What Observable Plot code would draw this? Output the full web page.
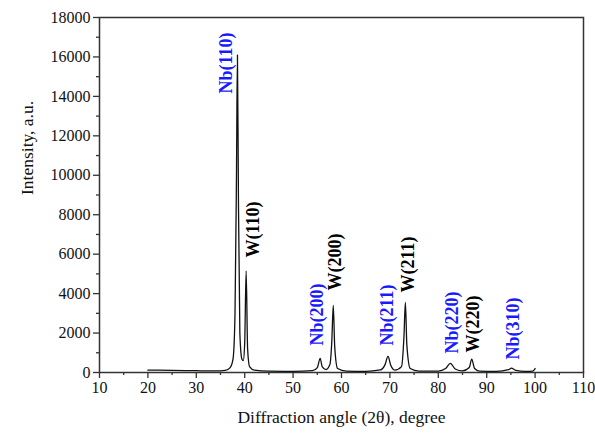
<!DOCTYPE html>
<html><head><meta charset="utf-8">
<script src="https://cdn.jsdelivr.net/npm/d3@7"></script>
<script src="https://cdn.jsdelivr.net/npm/@observablehq/plot@0.6"></script>
<style>body{margin:0;background:#fff}</style>
</head><body><div id="chart"></div>
<script>
const angle = [20,25,30,34,36,37,37.6,38.0,38.3,38.5,38.7,39.0,39.4,39.7,40.0,40.3,40.6,41.0,42,45,50,54,55.0,55.6,56.0,56.8,57.6,58.0,58.3,58.6,59.2,61,65,68,69.0,69.6,70.2,71,72.4,72.9,73.2,73.5,74.2,76,80,81.5,82.5,83.5,85,86.4,86.9,87.5,88.5,92,94.5,95.1,96,98,99.5,100];
const intensity = [120,110,90,80,110,250,700,3000,10000,16100,9000,2000,700,600,1500,5150,1200,300,120,70,60,90,250,720,300,150,400,1600,3400,1300,200,70,60,130,400,820,350,120,300,1800,3550,1400,200,70,70,200,460,180,80,250,680,200,70,60,140,220,110,60,70,200];
const labelText = ["Nb(110)","W(110)","Nb(200)","W(200)","Nb(211)","W(211)","Nb(220)","W(220)","Nb(310)"];
const labelX = [36.2,41.75,55.0,58.7,69.5,73.8,82.9,87.2,95.5];
const labelY = [14150,5830,1370,4160,1370,4060,960,1010,660];
const labelPhase = ["Nb","W","Nb","W","Nb","W","Nb","W","Nb"];
const xMajor = d3.range(10,111,10);
const xMinor = d3.range(15,110,10);
const yMajor = d3.range(0,18001,2000);
const yMinor = d3.range(1000,18000,2000);

const pattern = angle.map((a,i)=>({a, v: intensity[i]}));
const labels = labelText.map((t,i)=>({t, x: labelX[i], y: labelY[i], p: labelPhase[i]}));

const chart = Plot.plot({
  width: 595, height: 435,
  marginLeft: 99, marginRight: 12, marginTop: 17, marginBottom: 63,
  style: {fontFamily: "'Liberation Serif', 'Times New Roman', serif", fontSize: "16px", color: "#111", background: "#fff"},
  x: {domain: [10,110]},
  y: {domain: [0,18000]},
  marks: [
    Plot.frame({stroke: "#333", strokeWidth: 1.5}),
    Plot.axisX({ticks: xMajor, tickSize: 6, tickPadding: 3, tickFormat: d=>String(d), label: null, stroke: "#333", strokeWidth: 1.3, fontSize: 16}),
    Plot.axisX({ticks: xMinor, tickSize: 3, text: null, label: null, stroke: "#333", strokeWidth: 1.3}),
    Plot.axisY({ticks: yMajor, tickSize: 6, tickPadding: 3, tickFormat: d=>String(d), label: null, stroke: "#333", strokeWidth: 1.3, fontSize: 16}),
    Plot.axisY({ticks: yMinor, tickSize: 3, text: null, label: null, stroke: "#333", strokeWidth: 1.3}),
    Plot.line(pattern, {x: "a", y: "v", stroke: "#111", strokeWidth: 1.3, curve: "monotone-x"}),
    Plot.text(labels, {x: "x", y: "y", text: "t", rotate: -90, textAnchor: "start", fontWeight: "bold", fontSize: 18,
      fill: d => d.p === "Nb" ? "#1a1aff" : "#000"}),
    Plot.text(["Diffraction angle (2θ), degree"], {frameAnchor: "bottom", dy: 50, fontSize: 17.5}),
    Plot.text(["Intensity, a.u."], {frameAnchor: "left", dx: -72, rotate: -90, fontSize: 17.5})
  ]
});
document.getElementById("chart").appendChild(chart);
</script>
</body></html>
